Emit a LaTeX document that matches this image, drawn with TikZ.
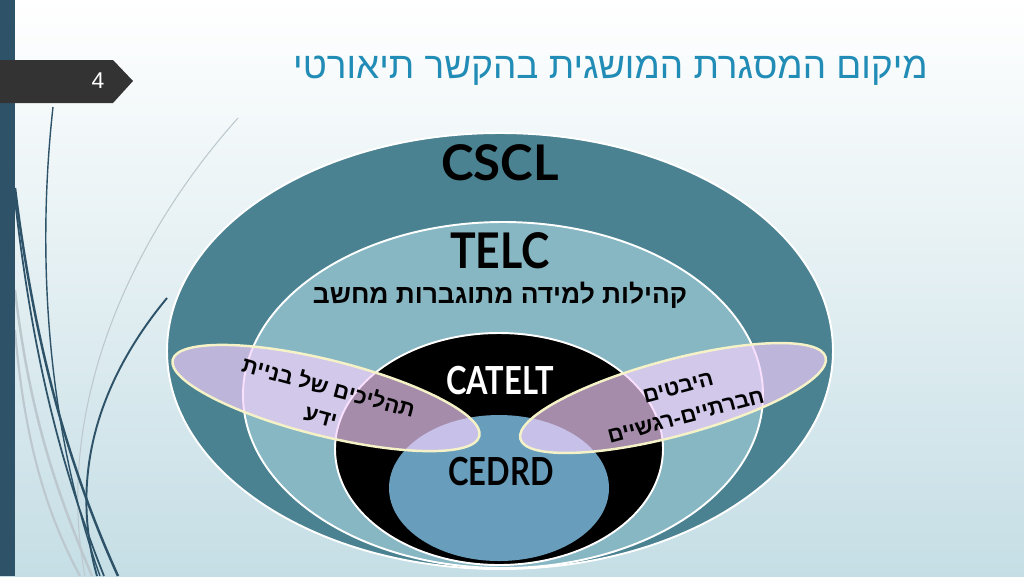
\documentclass[tikz,border=0pt]{standalone}
\usepackage{fontspec}
\setmainfont{Liberation Sans}
\newfontfamily\hebfont[Script=Hebrew]{Liberation Sans}
\newfontfamily\latofont{Lato}
\TeXXeTstate=1
\usetikzlibrary{positioning}
\definecolor{barblue}{RGB}{46,83,105}
\definecolor{tabgrey}{RGB}{51,51,51}
\definecolor{titleblue}{RGB}{33,141,182}
\definecolor{cscl}{RGB}{74,130,145}
\definecolor{telc}{RGB}{136,183,196}
\definecolor{cedrd}{RGB}{104,158,188}
\definecolor{lavfill}{RGB}{246,209,254}
\definecolor{lavedge}{RGB}{245,242,200}
\definecolor{bgbot}{RGB}{197,222,229}
\definecolor{swoosh}{RGB}{188,200,206}

\begin{document}
\begin{tikzpicture}[x=0.02cm, y=-0.02cm,
  ring/.style={draw=white, line width=1.1pt},
  lens/.style={fill=lavfill, fill opacity=0.67, draw=lavedge, line width=1.4pt},
  acronym/.style={font=\latofont\bfseries\fontsize{#1}{#1}\selectfont, inner sep=0pt},
  hebtext/.style={font=\hebfont\bfseries\fontsize{12.5}{17}\selectfont, align=center, inner sep=0pt}]

\useasboundingbox (0,0) rectangle (1024,576);
\shade[top color=white, bottom color=bgbot] (0,0) rectangle (1024,576);

\draw[swoosh, line width=0.6pt] (238,118) .. controls (120,250) and (55,420) .. (85,576);
\draw[swoosh, line width=1.4pt] (15,290) .. controls (30,420) and (60,500) .. (92,576);
\draw[swoosh, line width=1.2pt] (15,330) .. controls (25,450) and (50,520) .. (80,576);
\draw[barblue, line width=0.8pt] (53,107) .. controls (36,260) and (48,430) .. (100,576);
\draw[barblue, line width=1.4pt] (15,188) .. controls (35,350) and (70,470) .. (118,576);
\draw[barblue, line width=1pt] (15,200) .. controls (33,360) and (62,470) .. (104,576);
\draw[barblue, line width=1.1pt] (167,298) .. controls (95,385) and (70,480) .. (97,576);

\fill[barblue] (0,0) rectangle (15,576);
\fill[tabgrey] (0,60) -- (113,60) -- (133,81) -- (113,103) -- (0,103) -- cycle;
\node[text=white, font=\fontsize{13}{13}\selectfont, inner sep=0pt] (pagenum) at (98,81) {4};

\node[anchor=base east, text=titleblue, font=\hebfont\fontsize{21}{26}\selectfont, inner sep=0pt]
  (title) at (928,78) {\beginR מיקום המסגרת המושגית בהקשר תיאורטי\endR};

\filldraw[cscl, ring] (500,351) ellipse [x radius=333, y radius=218];
\filldraw[telc, ring] (503,395) ellipse [x radius=260, y radius=173];
\filldraw[black, ring] (499,449) ellipse [x radius=164, y radius=116];
\fill[cedrd] (499,488) ellipse [x radius=110, y radius=73];

\draw[lens, rotate around={-14:(326,398)}] (326,398) ellipse [x radius=158, y radius=38];
\draw[lens, rotate around={15:(673,398)}] (673,398) ellipse [x radius=158, y radius=38];

\node[acronym=28] (cscl) at (500,163) {CSCL};
\node[acronym=28, xscale=0.87] (telc) at (500,251) {TELC};
\node[hebtext, font=\hebfont\bfseries\fontsize{15}{18}\selectfont, below=7pt of telc] (telcheb)
  {\beginR קהילות למידה מתוגברות מחשב\endR};
\node[acronym=22, xscale=0.8, text=white] (catelt) at (500,381) {CATELT};
\node[acronym=22, xscale=0.8] (cedrd) at (501,472) {CEDRD};

\node[hebtext, rotate=-15] (knowledge) at (325,401)
  {\beginR תהליכים של בניית\endR\\\beginR ידע\endR};
\node[hebtext, rotate=15] (emotional) at (682,402)
  {\beginR היבטים\endR\\\beginR חברתיים-רגשיים\endR};

\end{tikzpicture}
\end{document}
